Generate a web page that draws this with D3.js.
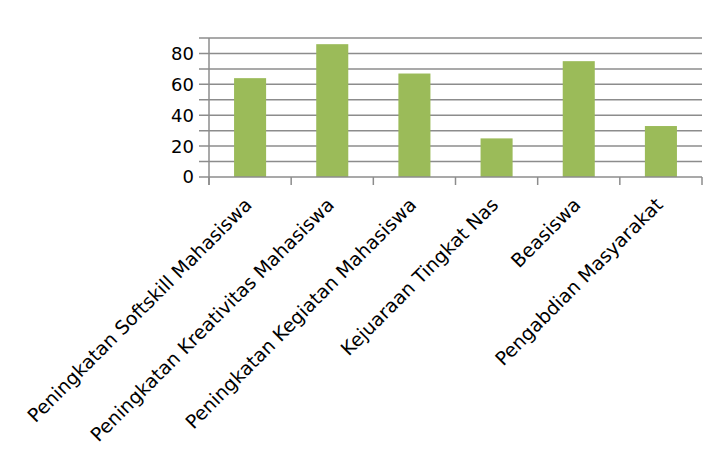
<!DOCTYPE html>
<html>
<head>
<meta charset="utf-8">
<script src="https://cdn.jsdelivr.net/npm/d3@7"></script>
<style>
  body { margin: 0; background: #fff; }
  text { font-family: "DejaVu Sans", Verdana, sans-serif; fill: #000; }
</style>
</head>
<body>
<div id="chart"></div>
<script>
const categories = [
    "Peningkatan Softskill Mahasiswa",
    "Peningkatan Kreativitas Mahasiswa",
    "Peningkatan Kegiatan Mahasiswa",
    "Kejuaraan Tingkat Nas",
    "Beasiswa",
    "Pengabdian Masyarakat"
];
const values = [64, 86, 67, 25, 75, 33];
const yTicks = [0, 20, 40, 60, 80];
const gridValues = [10, 20, 30, 40, 50, 60, 70, 80, 90];

const svgWidth = 725;
const svgHeight = 454;
const margin = { top: 38, right: 23, bottom: 277, left: 209 };
const width = svgWidth - margin.left - margin.right;
const height = svgHeight - margin.top - margin.bottom;

const svg = d3.select("#chart")
    .append("svg")
    .attr("width", svgWidth)
    .attr("height", svgHeight)
    .append("g")
    .attr("transform", "translate(" + margin.left + "," + margin.top + ")");

const xScale = d3.scaleBand()
    .domain(categories)
    .range([0, width])
    .padding(0);

const yScale = d3.scaleLinear()
    .domain([0, 90])
    .range([height, 0]);

// gridlines
svg.selectAll("line.grid")
    .data(gridValues)
    .enter().append("line")
    .attr("class", "grid")
    .attr("x1", -10)
    .attr("x2", width)
    .attr("y1", d => yScale(d))
    .attr("y2", d => yScale(d))
    .attr("stroke", "#8c8c8c")
    .attr("stroke-width", 1.5);

// bars
const barFrac = 0.39;
svg.selectAll("rect")
    .data(values)
    .enter().append("rect")
    .attr("x", (d, i) => xScale(categories[i]) + xScale.bandwidth() * (1 - barFrac) / 2)
    .attr("width", xScale.bandwidth() * barFrac)
    .attr("y", d => yScale(d))
    .attr("height", d => height - yScale(d))
    .attr("fill", "#9bbb59");

// x axis line and ticks
svg.append("line")
    .attr("x1", -10).attr("x2", width)
    .attr("y1", height).attr("y2", height)
    .attr("stroke", "#8c8c8c").attr("stroke-width", 1.5);

const xTickPos = categories.map(c => xScale(c)).concat([width]);
svg.selectAll("line.xtick")
    .data(xTickPos)
    .enter().append("line")
    .attr("class", "xtick")
    .attr("x1", d => d).attr("x2", d => d)
    .attr("y1", height).attr("y2", height + 8)
    .attr("stroke", "#8c8c8c").attr("stroke-width", 1.5);

// y axis line
svg.append("line")
    .attr("x1", 0).attr("x2", 0)
    .attr("y1", 0).attr("y2", height + 8)
    .attr("stroke", "#8c8c8c").attr("stroke-width", 1.5);

// y labels
svg.selectAll("text.ylabel")
    .data(yTicks)
    .enter().append("text")
    .attr("class", "ylabel")
    .attr("x", -15)
    .attr("y", d => yScale(d))
    .attr("dy", "0.36em")
    .attr("text-anchor", "end")
    .style("font-size", "18px")
    .text(d => d);

// category labels
svg.selectAll("text.xlabel")
    .data(categories)
    .enter().append("text")
    .attr("class", "xlabel")
    .attr("text-anchor", "end")
    .attr("transform", d => "translate(" + (xScale(d) + xScale.bandwidth() / 2 + 3) + "," + (height + 29) + ") rotate(-45)")
    .style("font-size", "19px")
    .text(d => d);
</script>
</body>
</html>
